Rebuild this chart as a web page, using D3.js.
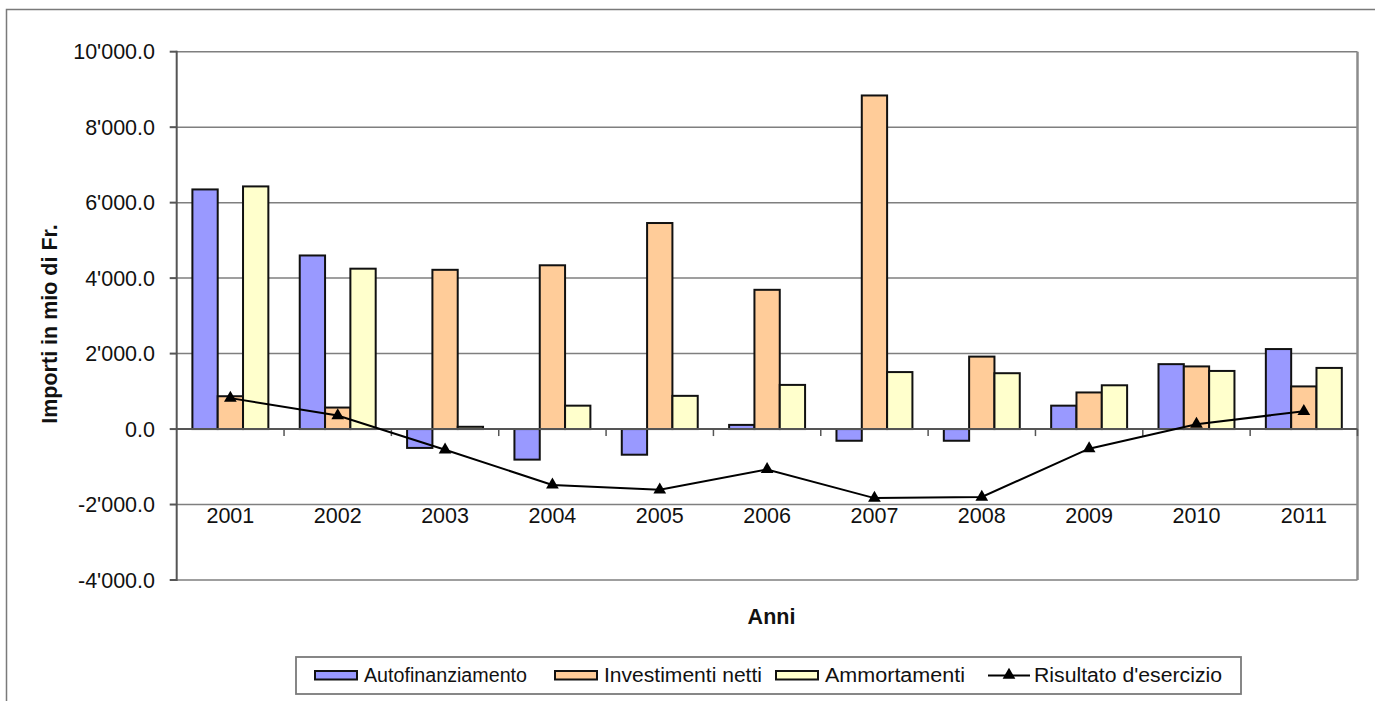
<!DOCTYPE html>
<html>
<head>
<meta charset="utf-8">
<script src="https://cdn.jsdelivr.net/npm/d3@7"></script>
<style>
  html, body { margin: 0; padding: 0; background: #fff; }
  svg { display: block; font-family: "Liberation Sans", Arial, sans-serif; }
</style>
</head>
<body>
<svg id="chart" width="1375" height="701"></svg>
<script>
// ---- data ----
const years = ["2001","2002","2003","2004","2005","2006","2007","2008","2009","2010","2011"];
const seriesNames = ["Autofinanziamento", "Investimenti netti", "Ammortamenti"];
const lineName = "Risultato d'esercizio";
const autofinanziamento = [6350, 4600, -500, -810, -680, 110, -310, -310, 620, 1720, 2120];
const investimenti = [870, 570, 4220, 4340, 5460, 3690, 8840, 1920, 970, 1660, 1130];
const ammortamenti = [6430, 4250, 60, 620, 880, 1170, 1510, 1480, 1160, 1540, 1620];
const risultato = [820, 360, -550, -1480, -1610, -1070, -1830, -1800, -520, 130, 470];
const yTicks = [-4000, -2000, 0, 2000, 4000, 6000, 8000, 10000];
const yTitle = "Importi in mio di Fr.";
const xTitle = "Anni";
const barColors = ["#9999FF", "#FFCC99", "#FFFFCC"];

// ---- setup ----
const svg = d3.select("#chart");
const plot = { left: 176.7, right: 1357.5, top: 51.7, bottom: 580 };

const locale = d3.formatLocale({ decimal: ".", thousands: "'", grouping: [3], currency: ["", ""], minus: "-" });
const fmt = locale.format(",.1f");

const x0 = d3.scaleBand().domain(years).range([plot.left, plot.right]).padding(0);
const x1 = d3.scaleBand().domain(seriesNames).range([0, x0.bandwidth()]).paddingInner(0).paddingOuter(0.62);
const y = d3.scaleLinear().domain([-4000, 10000]).range([plot.bottom, plot.top]);

// outer chart border
svg.append("rect").attr("x", 6.5).attr("y", 9.5).attr("width", 1400).attr("height", 720)
  .attr("fill", "none").attr("stroke", "#7a7a7a").attr("stroke-width", 1.5);

// gridlines
svg.append("g").selectAll("line").data(yTicks).join("line")
  .attr("x1", plot.left).attr("x2", plot.right)
  .attr("y1", d => y(d)).attr("y2", d => y(d))
  .attr("stroke", "#7f7f7f").attr("stroke-width", 1.5);

// plot area border (right side)
svg.append("line").attr("x1", plot.right).attr("x2", plot.right)
  .attr("y1", plot.top).attr("y2", plot.bottom)
  .attr("stroke", "#8c8c8c").attr("stroke-width", 2.5);

// y axis
const yAxisG = svg.append("g");
yAxisG.append("line").attr("x1", plot.left).attr("x2", plot.left)
  .attr("y1", plot.top - 1).attr("y2", plot.bottom + 1)
  .attr("stroke", "#555").attr("stroke-width", 2);
yAxisG.selectAll("line.tick").data(yTicks).join("line").attr("class", "tick")
  .attr("x1", plot.left - 7).attr("x2", plot.left)
  .attr("y1", d => y(d)).attr("y2", d => y(d))
  .attr("stroke", "#555").attr("stroke-width", 2);
yAxisG.selectAll("text").data(yTicks).join("text")
  .attr("x", 155).attr("y", d => y(d) + 7.6)
  .attr("text-anchor", "end").attr("font-size", 21.5).attr("fill", "#111")
  .text(d => fmt(d));

// bars
const seriesData = [autofinanziamento, investimenti, ammortamenti];
const groups = svg.append("g").selectAll("g").data(years).join("g")
  .attr("transform", d => `translate(${x0(d)},0)`);
groups.selectAll("rect").data((yr, i) => seriesNames.map((s, k) => ({ s, k, v: seriesData[k][i] })))
  .join("rect")
  .attr("x", d => x1(d.s))
  .attr("width", x1.bandwidth())
  .attr("y", d => y(Math.max(0, d.v)))
  .attr("height", d => Math.abs(y(d.v) - y(0)))
  .attr("fill", d => barColors[d.k])
  .attr("stroke", "#111").attr("stroke-width", 2);

// category axis at zero
svg.append("line").attr("x1", plot.left).attr("x2", plot.right)
  .attr("y1", y(0)).attr("y2", y(0)).attr("stroke", "#555").attr("stroke-width", 2);
svg.append("g").selectAll("line").data(years.slice(1).concat(["end"])).join("line")
  .attr("x1", (d, i) => plot.left + x0.step() * (i + 1))
  .attr("x2", (d, i) => plot.left + x0.step() * (i + 1))
  .attr("y1", y(0)).attr("y2", y(0) + 7)
  .attr("stroke", "#555").attr("stroke-width", 1.5);

// year labels
svg.append("g").selectAll("text").data(years).join("text")
  .attr("x", d => x0(d) + x0.bandwidth() / 2)
  .attr("y", 523)
  .attr("text-anchor", "middle").attr("font-size", 21.5).attr("fill", "#111")
  .text(d => d);

// line series
const xc = d => x0(d) + x0.bandwidth() / 2;
const lineGen = d3.line().x((d, i) => xc(years[i])).y(d => y(d));
svg.append("path").datum(risultato).attr("d", lineGen)
  .attr("fill", "none").attr("stroke", "#000").attr("stroke-width", 2);
const tri = d3.symbol().type(d3.symbolTriangle).size(70);
svg.append("g").selectAll("path").data(risultato).join("path")
  .attr("transform", (d, i) => `translate(${xc(years[i])},${y(d)})`)
  .attr("d", tri).attr("fill", "#000");

// axis titles
svg.append("text").attr("transform", "translate(56.5,324) rotate(-90)")
  .attr("text-anchor", "middle").attr("font-size", 21.5).attr("font-weight", "bold").attr("fill", "#111")
  .text(yTitle);
svg.append("text").attr("x", 771.5).attr("y", 624)
  .attr("text-anchor", "middle").attr("font-size", 21.5).attr("font-weight", "bold").attr("fill", "#111")
  .text(xTitle);

// legend
const lg = svg.append("g");
lg.append("rect").attr("x", 296).attr("y", 657).attr("width", 945).attr("height", 37)
  .attr("fill", "#fff").attr("stroke", "#7a7a7a").attr("stroke-width", 1.8);
const itemX = [315, 555, 776];
const textEnd = [527, 762, 965];
seriesNames.forEach((name, k) => {
  lg.append("rect").attr("x", itemX[k]).attr("y", 671).attr("width", 42).attr("height", 8.5)
    .attr("fill", barColors[k]).attr("stroke", "#111").attr("stroke-width", 2);
  lg.append("text").attr("x", itemX[k] + 49).attr("y", 681.5)
    .attr("font-size", 19.5).attr("fill", "#111")
    .attr("textLength", textEnd[k] - itemX[k] - 49).attr("lengthAdjust", "spacingAndGlyphs")
    .text(name);
});
lg.append("line").attr("x1", 988).attr("x2", 1030).attr("y1", 675.5).attr("y2", 675.5)
  .attr("stroke", "#000").attr("stroke-width", 2);
lg.append("path").attr("transform", "translate(1009,675)").attr("d", tri).attr("fill", "#000");
lg.append("text").attr("x", 1034).attr("y", 681.5)
  .attr("font-size", 19.5).attr("fill", "#111")
  .attr("textLength", 188).attr("lengthAdjust", "spacingAndGlyphs")
  .text(lineName);
</script>
</body>
</html>
